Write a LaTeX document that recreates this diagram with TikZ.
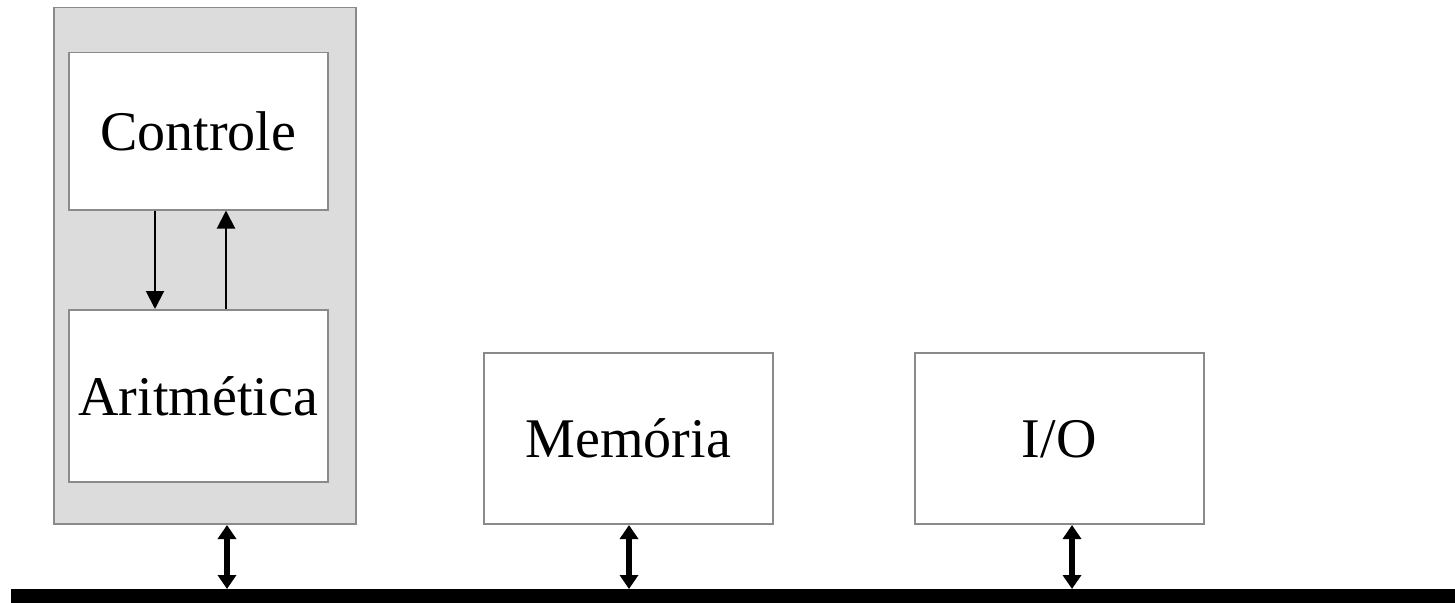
\documentclass[tikz,border=0pt]{standalone}
\usepackage{fontspec}
\setmainfont{Liberation Serif}
\usetikzlibrary{arrows.meta}
\definecolor{boxline}{HTML}{8A8A8A}
\definecolor{cpufill}{HTML}{DCDCDC}
\begin{document}
\begin{tikzpicture}[x=1pt,y=-1pt,
  unit/.style={draw=boxline,line width=1.5pt,fill=white,inner sep=0pt,
    font=\fontsize{56}{60}\selectfont,text height=46pt,text depth=7pt},
  thinarrow/.style={line width=2pt,-{Triangle[length=18pt,width=18pt]}},
  busarrow/.style={line width=5.5pt,{Triangle[length=14pt,width=18pt]}-{Triangle[length=14pt,width=18pt]},shorten <=0.5pt}]
\useasboundingbox (0,0) rectangle (1455,602);
% CPU outer box
\node[draw=boxline,line width=1.5pt,fill=cpufill,minimum width=302pt,minimum height=516pt,inner sep=0pt,anchor=north west] (cpu) at (53,7) {};
% Units
\node[unit,minimum width=259pt,minimum height=157pt,anchor=north west] (ctrl) at (68,52) {Controle};
\node[unit,minimum width=259pt,minimum height=172pt,anchor=north west] (alu) at (68,309) {Aritmética};
\node[unit,minimum width=289pt,minimum height=171pt,anchor=north west] (mem) at (483,352) {Memória};
\node[unit,minimum width=289pt,minimum height=171pt,anchor=north west] (io) at (914,352) {I/O};
% Bus
\node[fill=black,minimum width=1444pt,minimum height=16pt,inner sep=0pt,anchor=north west] (bus) at (11,589) {};
% Control <-> ALU
\draw[thinarrow] (ctrl.south -| 155,0) -- (alu.north -| 155,0);
\draw[thinarrow] (alu.north -| 226,0) -- (ctrl.south -| 226,0);
% Bus connections
\draw[busarrow] (cpu.south -| 227,0) -- (bus.north -| 227,0);
\draw[busarrow] (mem.south -| 629,0) -- (bus.north -| 629,0);
\draw[busarrow] (io.south -| 1072,0) -- (bus.north -| 1072,0);
\end{tikzpicture}
\end{document}
